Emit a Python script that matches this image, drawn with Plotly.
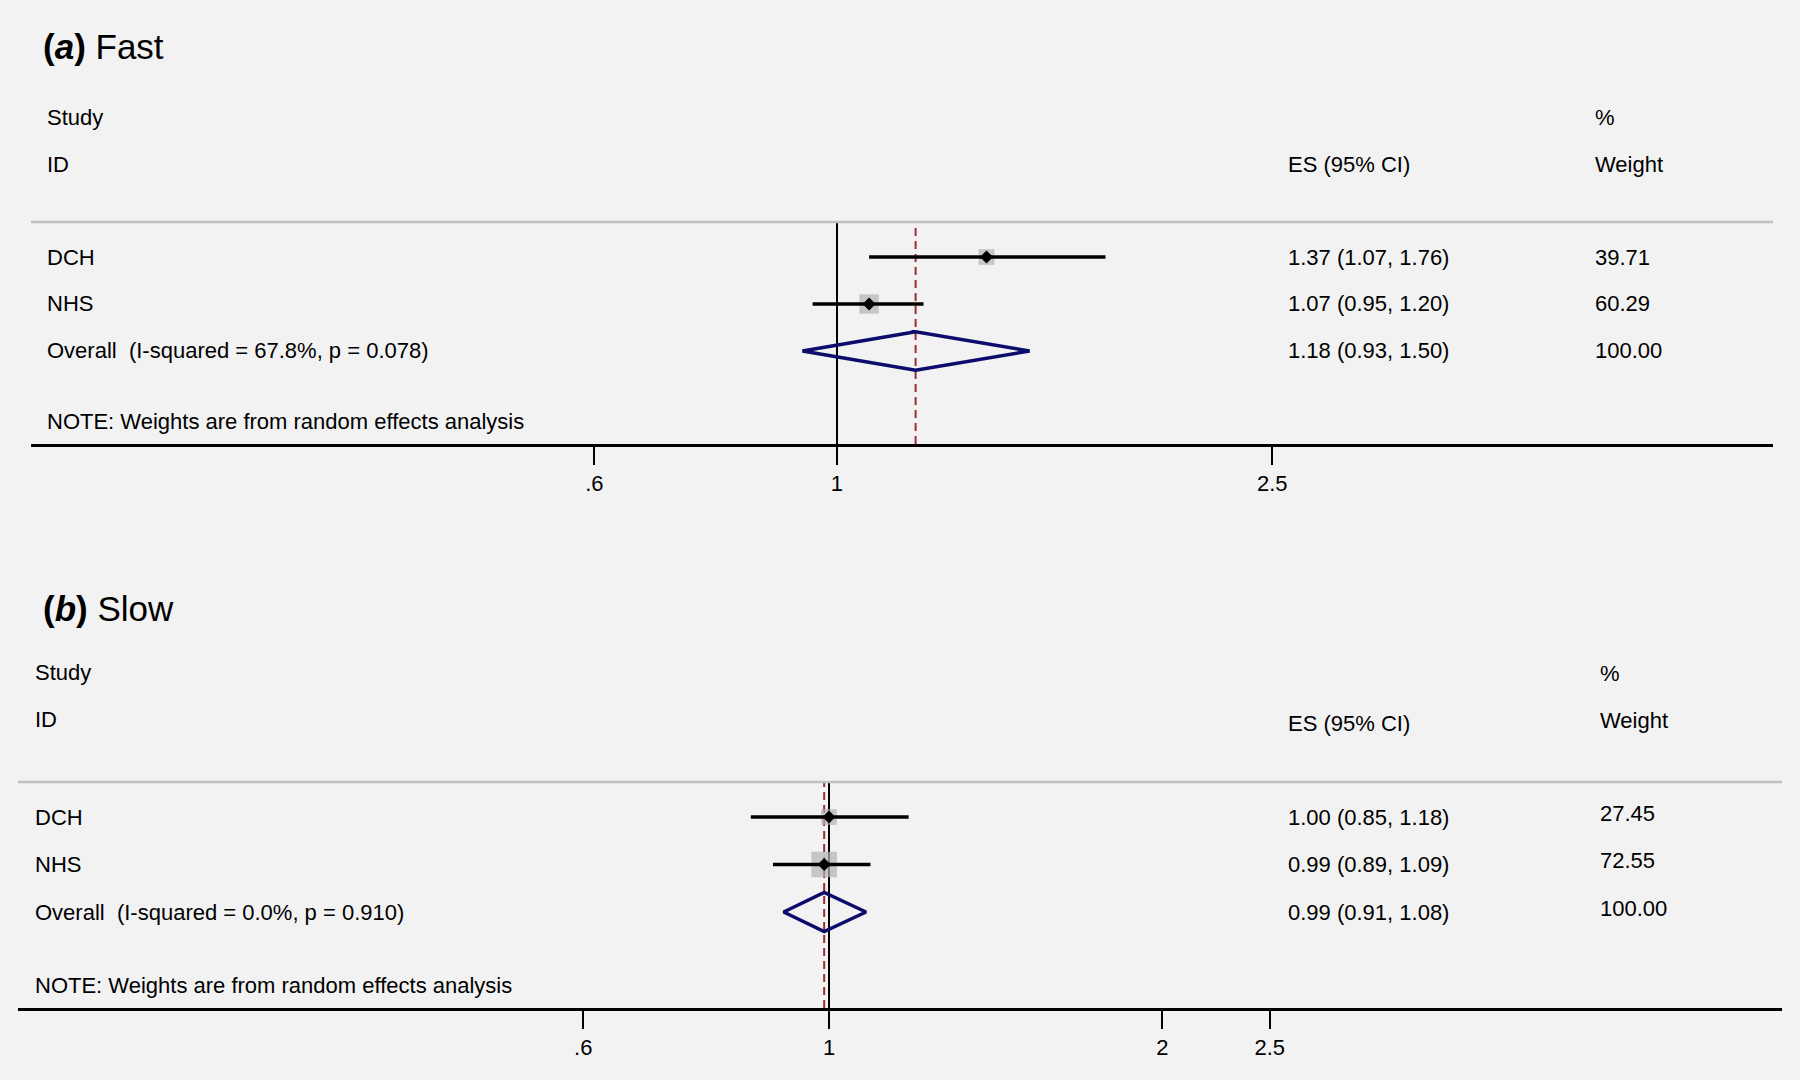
import plotly.graph_objects as go

W, H = 1800, 1080

# ---------------- data ----------------
studies = ["DCH", "NHS"]

fast_es = [1.37, 1.07]
fast_lo = [1.07, 0.95]
fast_hi = [1.76, 1.20]
fast_wt = [39.71, 60.29]
fast_overall_es, fast_overall_lo, fast_overall_hi = 1.18, 0.93, 1.50
fast_overall_label = "Overall  (I-squared = 67.8%, p = 0.078)"

slow_es = [1.00, 0.99]
slow_lo = [0.85, 0.89]
slow_hi = [1.18, 1.09]
slow_wt = [27.45, 72.55]
slow_overall_es, slow_overall_lo, slow_overall_hi = 0.99, 0.91, 1.08
slow_overall_label = "Overall  (I-squared = 0.0%, p = 0.910)"

fast_tickvals = [0.6, 1, 2.5]
fast_ticktext = [".6", "1", "2.5"]
slow_tickvals = [0.6, 1, 2, 2.5]
slow_ticktext = [".6", "1", "2", "2.5"]

note_text = "NOTE: Weights are from random effects analysis"

FONT = "Liberation Sans, Arial, Helvetica, sans-serif"
BG = "#f2f2f2"
NAVY = "#0c0c6c"
MAROON = "#9a2e30"
BOXGRAY = "#b4b4b4"

fig = go.Figure()


def py(px):
    return 1 - px / H


def add_panel(n, es, lo, hi, wt, o_es, o_lo, o_hi, o_label,
              tickvals, ticktext, xdom_px, xrange_log, ydom_px, yrange,
              box_k, title, title_y, hdr, label_x, es_x, wt_x, note_row,
              wt_shift=0):
    xa = "x" if n == 1 else "x%d" % n
    ya = "y" if n == 1 else "y%d" % n
    rows = [1, 2]
    cx, cy = [], []
    for r, l, h in zip(rows, lo, hi):
        cx += [l, h, None]
        cy += [r, r, None]
    fig.add_trace(go.Scatter(x=[1, 1], y=list(yrange), mode="lines",
                             line=dict(color="black", width=2),
                             xaxis=xa, yaxis=ya, showlegend=False, hoverinfo="skip"))
    fig.add_trace(go.Scatter(x=[o_es, o_es], y=list(yrange), mode="lines",
                             line=dict(color=MAROON, width=2, dash="8px,5px"),
                             xaxis=xa, yaxis=ya, showlegend=False, hoverinfo="skip"))
    fig.add_trace(go.Scatter(x=es, y=rows, mode="markers",
                             marker=dict(symbol="square", color=BOXGRAY,
                                         size=[box_k * w ** 0.5 for w in wt],
                                         line=dict(width=0)),
                             xaxis=xa, yaxis=ya, showlegend=False, hoverinfo="skip"))
    fig.add_trace(go.Scatter(x=cx, y=cy, mode="lines",
                             line=dict(color="black", width=3.5),
                             xaxis=xa, yaxis=ya, showlegend=False, hoverinfo="skip"))
    fig.add_trace(go.Scatter(x=es, y=rows, mode="markers",
                             marker=dict(symbol="diamond", color="black", size=10),
                             xaxis=xa, yaxis=ya, showlegend=False, hoverinfo="skip"))
    hh = 0.41
    fig.add_trace(go.Scatter(x=[o_lo, o_es, o_hi, o_es, o_lo, o_es],
                             y=[3, 3 - hh, 3, 3 + hh, 3, 3 - hh], mode="lines",
                             line=dict(color=NAVY, width=3.5),
                             xaxis=xa, yaxis=ya, showlegend=False, hoverinfo="skip"))

    xkey = "xaxis" if n == 1 else "xaxis%d" % n
    ykey = "yaxis" if n == 1 else "yaxis%d" % n
    fig.update_layout(**{
        xkey: dict(type="log", range=list(xrange_log),
                   domain=[xdom_px[0] / W, xdom_px[1] / W], anchor=ya,
                   showline=True, linecolor="black", linewidth=2.5,
                   ticks="outside", ticklen=18, tickwidth=2, tickcolor="black",
                   tickvals=tickvals, ticktext=ticktext,
                   tickfont=dict(size=22, color="black", family=FONT),
                   showgrid=False, zeroline=False, fixedrange=True),
        ykey: dict(domain=[py(ydom_px[1]), py(ydom_px[0])], range=list(yrange),
                   anchor=xa, visible=False, fixedrange=True),
    })
    fig.add_shape(type="line", xref=xa + " domain", x0=0, x1=1,
                  yref=ya + " domain", y0=1, y1=1,
                  line=dict(color="#c0c0c0", width=2.5))

    def ann(text, x, y, yref="paper", size=22, yshift=0):
        fig.add_annotation(text=text, x=x / W, y=y, xref="paper", yref=yref,
                           xanchor="left", yanchor="middle", showarrow=False,
                           yshift=yshift,
                           font=dict(size=size, color="black", family=FONT))

    ann(title, title_y[0], py(title_y[1]), size=35)
    ann("Study", label_x, py(hdr["study"]))
    ann("ID", label_x, py(hdr["id"]))
    ann("ES (95% CI)", es_x, py(hdr["es"]))
    ann("%", wt_x, py(hdr["pct"]))
    ann("Weight", wt_x, py(hdr["weight"]))

    labels = studies + [o_label]
    all_es = es + [o_es]
    all_lo = lo + [o_lo]
    all_hi = hi + [o_hi]
    weights = wt + [100.0]
    for i, r in enumerate([1, 2, 3]):
        ann(labels[i], label_x, r, yref=ya)
        ann("%.2f (%.2f, %.2f)" % (all_es[i], all_lo[i], all_hi[i]), es_x, r, yref=ya)
        ann("%.2f" % weights[i], wt_x, r, yref=ya, yshift=wt_shift)
    ann(note_text, label_x, note_row, yref=ya)


add_panel(1, fast_es, fast_lo, fast_hi, fast_wt,
          fast_overall_es, fast_overall_lo, fast_overall_hi, fast_overall_label,
          fast_tickvals, fast_ticktext,
          xdom_px=(31, 1773), xrange_log=(-0.7369, 0.8558),
          ydom_px=(222, 444), yrange=(4.979, 0.255),
          box_k=2.5, title="<b>(<i>a</i>)</b> Fast", title_y=(41, 47),
          hdr=dict(study=117, id=164, es=164, pct=117, weight=164),
          label_x=45, es_x=1286, wt_x=1593, note_row=4.51)

add_panel(2, slow_es, slow_lo, slow_hi, slow_wt,
          slow_overall_es, slow_overall_lo, slow_overall_hi, slow_overall_label,
          slow_tickvals, slow_ticktext,
          xdom_px=(18, 1782), xrange_log=(-0.7322, 0.8604),
          ydom_px=(782, 1008), yrange=(5.021, 0.263),
          box_k=3.0, title="<b>(<i>b</i>)</b> Slow", title_y=(41, 608),
          hdr=dict(study=672, id=719, es=723, pct=673, weight=720),
          label_x=33, es_x=1286, wt_x=1598, note_row=4.537, wt_shift=4)

fig.update_layout(width=W, height=H, margin=dict(l=0, r=0, t=0, b=0),
                  paper_bgcolor=BG, plot_bgcolor=BG, showlegend=False,
                  font=dict(family=FONT, color="black"))

fig.write_html("out.html", config={"displayModeBar": False},
               post_script="document.body.style.margin='0';document.body.style.padding='0';document.body.style.overflow='hidden';")
